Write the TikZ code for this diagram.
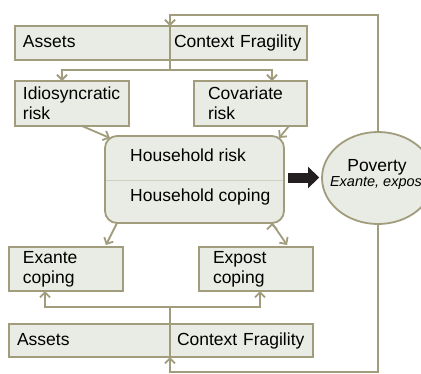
\documentclass[tikz,border=0pt]{standalone}
\usepackage{fontspec}
\setmainfont{Liberation Sans}
\usetikzlibrary{arrows.meta, positioning, shapes.geometric}
\definecolor{boxline}{HTML}{A09C7C}
\definecolor{boxfill}{HTML}{E9ECE4}
\definecolor{splitline}{HTML}{CFCFBF}
\definecolor{heavyink}{HTML}{231F20}

\begin{document}
\begin{tikzpicture}[x=1pt,y=-1pt,font=\fontsize{17.5}{20}\selectfont,
   box/.style={draw=boxline,fill=boxfill,line width=1.8pt,inner ysep=0pt,outer sep=0pt,align=left,anchor=north west},
   oneline/.style={text height=13pt,text depth=3.5pt},
   lbl/.style={inner sep=0pt,anchor=west},
   link/.style={draw=boxline,line width=1.8pt,-{Straight Barb[length=5pt,width=10pt]}},
   heavy/.style={draw=heavyink,line width=10pt,-{Triangle[length=11pt,width=21pt]}}]
   \useasboundingbox (0,0) rectangle (421,373);
   \clip (0,0) rectangle (421,373);
   % boxes
   \node[box,oneline,inner xsep=8pt,minimum width=155pt,minimum height=34pt,text width=139pt] (topA) at (15,26) {Assets};
   \node[box,oneline,inner xsep=4pt,minimum width=137pt,minimum height=34pt,text width=129pt] (topB) [right=0pt of topA] {Context Fragility};
   \node[box,inner xsep=8pt,minimum width=114pt,minimum height=45pt,text width=98pt] (idio) at (15,81) {Idiosyncratic\\risk};
   \node[box,inner xsep=14pt,minimum width=113pt,minimum height=45pt,text width=85pt] (cova) at (194,81) {Covariate\\risk};
   \node[box,rounded corners=12pt,minimum width=179pt,minimum height=87pt] (house) at (105,136) {};
   \draw[splitline,line width=0.8pt,shorten <=1pt,shorten >=1pt] (house.west |- 0,180) -- (house.east |- 0,180);
   \node[lbl] (hrisk) at (130,155) {Household risk};
   \node[lbl] (hcope) at (130,197) {Household coping};
   \node[box,inner xsep=14pt,minimum width=114pt,minimum height=44pt,text width=86pt] (exante) at (9,247) {Exante\\coping};
   \node[box,inner xsep=14pt,minimum width=114pt,minimum height=44pt,text width=86pt] (expost) at (199,247) {Expost\\coping};
   \node[box,oneline,inner xsep=8pt,minimum width=161pt,minimum height=33pt,text width=145pt] (botA) at (9,324) {Assets};
   \node[box,oneline,inner xsep=7pt,minimum width=143pt,minimum height=33pt,text width=129pt] (botB) [right=0pt of botA] {Context Fragility};
   \node[draw=boxline,fill=boxfill,line width=1.8pt,ellipse,minimum width=112pt,minimum height=92pt,inner sep=0pt] (pov) at (378,178) {};
   \node (povT) at (377,167) {Poverty};
   \node[font=\fontsize{14.5}{16}\selectfont\itshape] (povS) at (378,183) {Exante, expost};
   % connectors
   \coordinate (fbtop) at (170,15);
   \coordinate (fbbot) at (170,372);
   \coordinate (splitT) at (170,70);
   \coordinate (splitB) at (170,307);
   \draw[link] (pov.north) |- (fbtop) -- (topB.north west);
   \draw[link] (pov.south) |- (fbbot) -- (botB.south west);
   \draw[link] (topB.south west) -- (splitT) -| ([xshift=-10pt]idio.north);
   \draw[link] (splitT) -| ([xshift=21.5pt]cova.north);
   \draw[link] (botB.north west) -- (splitB) -| ([xshift=-21pt]exante.south);
   \draw[link] (splitB) -| ([xshift=4pt]expost.south);
   \path[link]
   ([xshift=10pt]idio.south) edge ([shift={(5pt,-2pt)}]house.north west)
   ([xshift=38.5pt]cova.south) edge ([shift={(-5pt,-2pt)}]house.north east)
   ([xshift=12pt]house.south west) edge ([shift={(-17pt,2pt)}]exante.north east)
   ([xshift=-12pt]house.south east) edge ([shift={(-26pt,2pt)}]expost.north east);
   \draw[heavy] ([shift={(4pt,2pt)}]house.east) -- ([shift={(-2pt,2pt)}]house.east -| pov.west);
\end{tikzpicture}
\end{document}
